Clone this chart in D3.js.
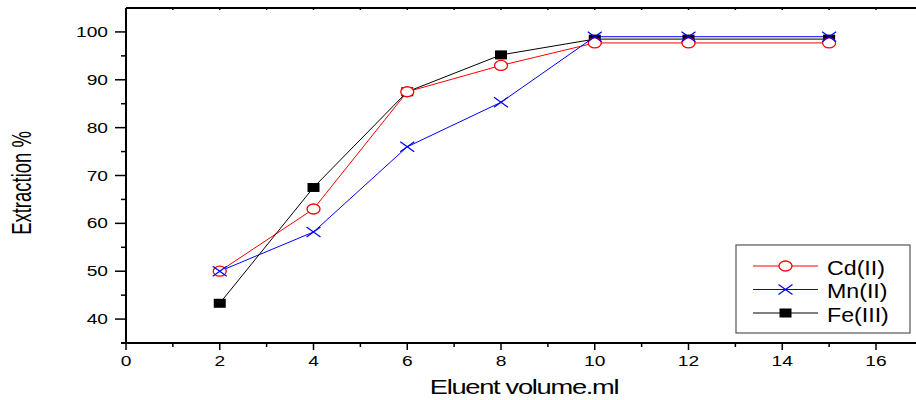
<!DOCTYPE html>
<html>
<head>
<meta charset="utf-8">
<script src="https://cdn.jsdelivr.net/npm/d3@7"></script>
<style>
  body { margin: 0; background: #fff; }
  svg { display: block; font-family: "Liberation Sans", Arial, sans-serif; }
</style>
</head>
<body>
<svg id="chart" width="916" height="400"></svg>
<script>
// data
const volumes = [2, 4, 6, 8, 10, 12, 15];
const cd = [50, 63, 87.5, 93, 97.7, 97.7, 97.7];
const mn = [50, 58.2, 76, 85.3, 99, 99, 99];
const fe = [43.3, 67.5, 87.5, 95.2, 98.5, 98.5, 98.5];
const xTicks = [0, 2, 4, 6, 8, 10, 12, 14, 16];
const yTicks = [40, 50, 60, 70, 80, 90, 100];
const seriesNames = ["Cd(II)", "Mn(II)", "Fe(III)"];

const svg = d3.select("#chart");
const plotLeft = 126, plotTop = 8, plotBottom = 343;

const x = d3.scaleLinear().domain([0, 16]).range([plotLeft, 876]);
const y = d3.scaleLinear().domain([35, 105]).range([plotBottom, plotTop]);

// frame: top line
svg.append("line")
  .attr("x1", plotLeft).attr("x2", 916).attr("y1", plotTop).attr("y2", plotTop)
  .attr("stroke", "#000").attr("stroke-width", 2);
svg.selectAll(".ttick").data(d3.range(1, 18))
  .enter().append("line")
  .attr("x1", d => x(d)).attr("x2", d => x(d))
  .attr("y1", plotTop).attr("y2", plotTop + 2)
  .attr("stroke", "#000").attr("stroke-width", 1.5);

// bottom axis
const gx = svg.append("g").attr("transform", `translate(0,${plotBottom})`);
gx.append("line").attr("x1", plotLeft - 5).attr("x2", 916)
  .attr("stroke", "#000").attr("stroke-width", 2);
gx.selectAll(".minor").data(d3.range(1, 18, 2))
  .enter().append("line")
  .attr("x1", d => x(d)).attr("x2", d => x(d)).attr("y1", 0).attr("y2", 4)
  .attr("stroke", "#000").attr("stroke-width", 1.5);
gx.selectAll(".major").data(xTicks)
  .enter().append("line")
  .attr("x1", d => x(d)).attr("x2", d => x(d)).attr("y1", 0).attr("y2", 7)
  .attr("stroke", "#000").attr("stroke-width", 1.5);
gx.selectAll(".lab").data(xTicks)
  .enter().append("text")
  .attr("transform", d => `translate(${x(d)},23) scale(1.37,1)`)
  .attr("text-anchor", "middle").attr("font-size", 14)
  .text(d => d);

// left axis
const gy = svg.append("g").attr("transform", `translate(${plotLeft},0)`);
gy.append("line").attr("y1", plotTop).attr("y2", plotBottom)
  .attr("stroke", "#000").attr("stroke-width", 2);
gy.selectAll(".minor").data(d3.range(45, 105, 10))
  .enter().append("line")
  .attr("x1", -5).attr("x2", 0).attr("y1", d => y(d)).attr("y2", d => y(d))
  .attr("stroke", "#000").attr("stroke-width", 1.5);
gy.selectAll(".major").data(yTicks)
  .enter().append("line")
  .attr("x1", -11).attr("x2", 0).attr("y1", d => y(d)).attr("y2", d => y(d))
  .attr("stroke", "#000").attr("stroke-width", 1.5);
gy.selectAll(".lab").data(yTicks)
  .enter().append("text")
  .attr("transform", d => `translate(-18,${y(d) + 5}) scale(1.37,1)`)
  .attr("text-anchor", "end").attr("font-size", 14)
  .text(d => d);

// axis titles
svg.append("text")
  .attr("transform", "translate(524,394) scale(1.3,1)")
  .attr("text-anchor", "middle").attr("font-size", 21)
  .attr("letter-spacing", -1)
  .text("Eluent volume.ml");
svg.append("text")
  .attr("transform", "translate(31,183) rotate(-90) scale(0.66,1)")
  .attr("text-anchor", "middle").attr("font-size", 28)
  .text("Extraction %");

// lines
const line = vals => d3.line().x((d, i) => x(volumes[i])).y(d => y(d))(vals);
const series = [
  { name: seriesNames[0], vals: cd, color: "#ff0000", mark: "circle" },
  { name: seriesNames[1], vals: mn, color: "#0000ff", mark: "cross" },
  { name: seriesNames[2], vals: fe, color: "#000000", mark: "square" }
];

function drawMark(g, type, cx, cy, color) {
  if (type === "circle") {
    g.append("ellipse").attr("cx", cx).attr("cy", cy).attr("rx", 6.5).attr("ry", 5)
      .attr("fill", "#fff").attr("stroke", color).attr("stroke-width", 1.3);
  } else if (type === "cross") {
    g.append("path")
      .attr("d", `M${cx - 7},${cy - 5}L${cx + 7},${cy + 5}M${cx - 7},${cy + 5}L${cx + 7},${cy - 5}`)
      .attr("stroke", color).attr("stroke-width", 1.2).attr("fill", "none");
  } else {
    g.append("rect").attr("x", cx - 6).attr("y", cy - 4.5).attr("width", 12).attr("height", 9)
      .attr("fill", color);
  }
}

const plot = svg.append("g");
series.forEach(s => {
  plot.append("path").attr("d", line(s.vals))
    .attr("fill", "none").attr("stroke", s.color).attr("stroke-width", 1);
});
[series[2], series[0], series[1]].forEach(s => {
  s.vals.forEach((v, i) => drawMark(plot, s.mark, x(volumes[i]), y(v), s.color));
});

// legend
const lg = svg.append("g");
lg.append("rect").attr("x", 736).attr("y", 245).attr("width", 174).attr("height", 88)
  .attr("fill", "#fff").attr("stroke", "#555").attr("stroke-width", 1.2);
series.forEach((s, i) => {
  const ly = 266 + i * 23.5;
  lg.append("line").attr("x1", 753).attr("x2", 818).attr("y1", ly).attr("y2", ly)
    .attr("stroke", s.color).attr("stroke-width", 1);
  drawMark(lg, s.mark, 785.5, ly, s.color);
  lg.append("text").attr("transform", `translate(827,${ly + 8.5}) scale(1.16,1)`)
    .attr("font-size", 20).text(s.name);
});
</script>
</body>
</html>
